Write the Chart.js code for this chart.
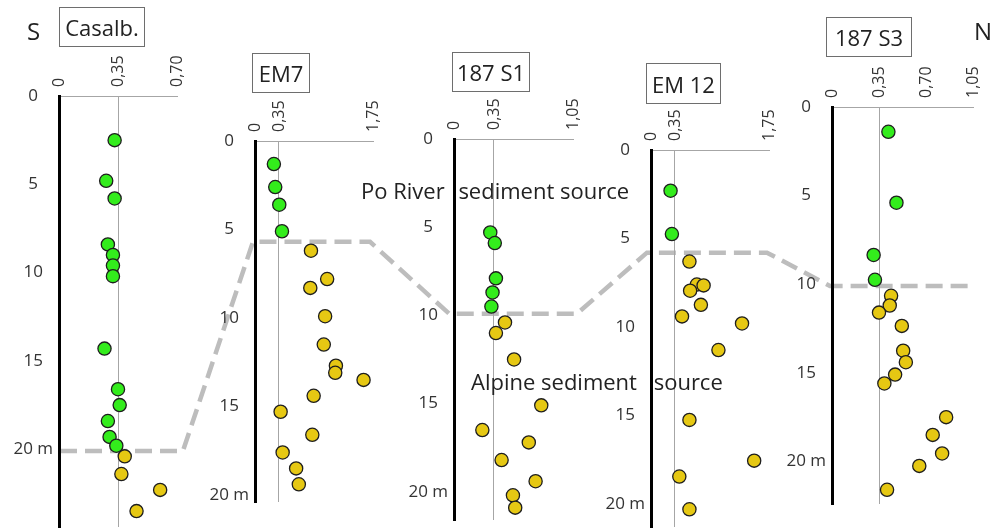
<!DOCTYPE html>
<html>
<head>
<meta charset="utf-8">
<script src="https://cdn.jsdelivr.net/npm/chart.js@4/dist/chart.umd.min.js"></script>
<style>
html,body{margin:0;padding:0;background:#fff;overflow:hidden}
#wrap{position:relative;width:995px;height:529px;font-family:'Open Sans',sans-serif;color:#222}
#wrap canvas{position:absolute;left:0;top:0}
.box{position:absolute;border:1.5px solid #6e6e6e;box-sizing:border-box;display:flex;align-items:center;justify-content:center;font-size:22px;line-height:1;z-index:3;color:#222;background:transparent}
.lbl{position:absolute;font-size:22px;line-height:1;white-space:nowrap;z-index:3;color:#222}
.big{position:absolute;font-size:24px;line-height:1;z-index:3;color:#222}
</style>
</head>
<body>
<div id="wrap">
  <canvas id="ov" width="995" height="529" style="z-index:1"></canvas>
  <canvas id="p0" width="995" height="529" style="z-index:2"></canvas>
  <canvas id="p1" width="995" height="529" style="z-index:2"></canvas>
  <canvas id="p2" width="995" height="529" style="z-index:2"></canvas>
  <canvas id="p3" width="995" height="529" style="z-index:2"></canvas>
  <canvas id="p4" width="995" height="529" style="z-index:2"></canvas>

  <div class="big" style="left:27px;top:19px">S</div>
  <div class="big" style="left:974px;top:19px">N</div>
  <div class="box" id="t0" style="left:59px;top:7px;width:86px;height:40px"></div>
  <div class="box" id="t1" style="left:252px;top:53px;width:58px;height:40px"></div>
  <div class="box" id="t2" style="left:452px;top:52px;width:78px;height:40px"></div>
  <div class="box" id="t3" style="left:646px;top:63px;width:75px;height:41px"></div>
  <div class="box" id="t4" style="left:826px;top:17px;width:86px;height:40px"></div>

  <div class="lbl" style="left:361px;top:179px">Po River <span style="margin-left:8px">sediment source</span></div>
  <div class="lbl" style="left:471px;top:370px">Alpine sediment <span style="margin-left:11px">source</span></div>
</div>

<script>
// ---------------- data ----------------
const panelNames = ['Casalb.', 'EM7', '187 S1', 'EM 12', '187 S3'];
const xMax = [0.70, 1.75, 1.05, 1.75, 1.05];
const xTickValues = [[0, 0.35, 0.70], [0, 0.35, 1.75], [0, 0.35, 1.05], [0, 0.35, 1.75], [0, 0.35, 0.70, 1.05]];
const xTickLabels = [['0', '0,35', '0,70'], ['0', '0,35', '1,75'], ['0', '0,35', '1,05'], ['0', '0,35', '1,75'], ['0', '0,35', '0,70', '1,05']];
const depthMax = [24.4, 20.4, 21.6, 21.3, 22.4];
const depthTicks = [0, 5, 10, 15, 20];
const depthTickLabels = ['0', '5', '10', '15', '20 m'];
// boundary between Po River (above) and Alpine (below) sediment source, per core
const boundaryDepth = [20.1, 5.7, 9.9, 5.8, 10.1];
const boundaryStartX = [0.006, -0.03, -0.044, -0.06, -0.015];
const boundaryEndX = [0.735, 1.706, 1.086, 1.72, 1.028];

// Casalb.
const casalbPoX = [0.33, 0.28, 0.33, 0.29, 0.32, 0.32, 0.32, 0.27, 0.35, 0.36, 0.29, 0.30, 0.34];
const casalbPoDepth = [2.5, 4.8, 5.8, 8.4, 9.0, 9.6, 10.2, 14.3, 16.6, 17.5, 18.4, 19.3, 19.8];
const casalbAlpX = [0.39, 0.37, 0.60, 0.46];
const casalbAlpDepth = [20.4, 21.4, 22.3, 23.5];
// EM7
const em7PoX = [0.28, 0.30, 0.36, 0.40];
const em7PoDepth = [1.3, 2.6, 3.6, 5.1];
const em7AlpX = [0.83, 1.07, 0.82, 1.04, 1.02, 1.20, 1.19, 1.61, 0.87, 0.38, 0.85, 0.41, 0.61, 0.65];
const em7AlpDepth = [6.2, 7.8, 8.3, 9.9, 11.5, 12.7, 13.1, 13.5, 14.4, 15.3, 16.6, 17.6, 18.5, 19.4];
// 187 S1
const s1PoX = [0.32, 0.36, 0.37, 0.34, 0.33];
const s1PoDepth = [5.3, 5.9, 7.9, 8.7, 9.5];
const s1AlpX = [0.45, 0.37, 0.53, 0.77, 0.25, 0.66, 0.42, 0.72, 0.52, 0.54];
const s1AlpDepth = [10.4, 11.0, 12.5, 15.1, 16.5, 17.2, 18.2, 19.4, 20.2, 20.9];
// EM 12
const em12PoX = [0.29, 0.31];
const em12PoDepth = [2.3, 4.75];
const em12AlpX = [0.57, 0.68, 0.78, 0.58, 0.74, 0.46, 1.35, 1.00, 0.57, 1.53, 0.42, 0.57];
const em12AlpDepth = [6.3, 7.6, 7.65, 7.95, 8.75, 9.4, 9.8, 11.3, 15.25, 17.55, 18.45, 20.3];
// 187 S3
const s3PoX = [0.42, 0.48, 0.31, 0.32];
const s3PoDepth = [1.4, 5.4, 8.35, 9.75];
const s3AlpX = [0.44, 0.43, 0.35, 0.52, 0.53, 0.55, 0.47, 0.39, 0.85, 0.75, 0.82, 0.65, 0.41];
const s3AlpDepth = [10.65, 11.2, 11.6, 12.35, 13.75, 14.4, 15.1, 15.6, 17.5, 18.5, 19.55, 20.25, 21.6];

const poSeries = [[casalbPoX, casalbPoDepth], [em7PoX, em7PoDepth], [s1PoX, s1PoDepth], [em12PoX, em12PoDepth], [s3PoX, s3PoDepth]];
const alpSeries = [[casalbAlpX, casalbAlpDepth], [em7AlpX, em7AlpDepth], [s1AlpX, s1AlpDepth], [em12AlpX, em12AlpDepth], [s3AlpX, s3AlpDepth]];

// ---------------- layout (pixels of each panel's plot frame) ----------------
const W = 995, H = 529;
const frames = [
  {left: 59, top: 96, right: 177, bottom: 527},
  {left: 255, top: 141, right: 373, bottom: 502},
  {left: 454, top: 139, right: 573, bottom: 520},
  {left: 651, top: 150, right: 769, bottom: 527},
  {left: 832, top: 107, right: 973, bottom: 504}
];
const Y_W = 50, X_H = 50;
const GREEN = '#33ec1c', YELLOW = '#e6c813', EDGE = '#1e1e1e';
const FONT = "'Open Sans', sans-serif";
Chart.defaults.font.family = FONT;

panelNames.forEach((n, i) => { document.getElementById('t' + i).textContent = n; });

function pts(pair) { return pair[0].map((x, k) => ({x: x, y: pair[1][k]})); }
function zeroPad(s) { s.paddingLeft = 0; s.paddingRight = 0; s.paddingTop = 0; s.paddingBottom = 0; }

const charts = frames.map((f, i) => new Chart(document.getElementById('p' + i), {
  type: 'scatter',
  data: {
    datasets: [
      {data: pts(alpSeries[i]), order: 0, backgroundColor: YELLOW, borderColor: EDGE, pointRadius: 6.6, pointBorderWidth: 1.3, clip: false},
      {data: pts(poSeries[i]), order: 1, backgroundColor: GREEN, borderColor: EDGE, pointRadius: 6.6, pointBorderWidth: 1.3, clip: false}
    ]
  },
  options: {
    responsive: false,
    animation: false,
    events: [],
    layout: {autoPadding: false, padding: {left: f.left - Y_W, top: f.top - X_H, right: W - f.right, bottom: H - f.bottom}},
    plugins: {legend: {display: false}, tooltip: {enabled: false}, title: {display: false}},
    scales: {
      x: {
        type: 'linear', position: 'top', min: 0, max: xMax[i],
        afterBuildTicks: s => { s.ticks = xTickValues[i].map(v => ({value: v})); },
        afterFit: s => { s.height = X_H; zeroPad(s); },
        ticks: {autoSkip: false, minRotation: 90, maxRotation: 90, padding: 9, labelOffset: 20, color: '#333', font: {size: 16},
          callback: (v, idx) => xTickLabels[i][idx]},
        grid: {drawTicks: false, lineWidth: 1, color: c => c.index === 1 ? '#a6a6a6' : 'rgba(0,0,0,0)'},
        border: {display: true, color: '#a6a6a6', width: 1}
      },
      y: {
        type: 'linear', position: 'left', reverse: true, min: 0, max: depthMax[i],
        afterBuildTicks: s => { s.ticks = depthTicks.map(v => ({value: v})); },
        afterFit: s => { s.width = Y_W; zeroPad(s); },
        ticks: {crossAlign: 'center', padding: 6, color: '#333', font: {size: 17},
          callback: (v, idx) => depthTickLabels[idx]},
        grid: {display: false, drawTicks: false},
        border: {display: true, color: '#000', width: 3}
      }
    }
  }
}));

// boundary (dashed) line, positioned through each panel's own scales
const boundaryPts = [];
charts.forEach((ch, i) => {
  const y = ch.scales.y.getPixelForValue(boundaryDepth[i]);
  boundaryPts.push({x: ch.scales.x.getPixelForValue(boundaryStartX[i]), y: y});
  boundaryPts.push({x: ch.scales.x.getPixelForValue(boundaryEndX[i]), y: y});
});

new Chart(document.getElementById('ov'), {
  type: 'scatter',
  data: {datasets: [{data: boundaryPts, showLine: true, pointRadius: 0, borderColor: '#bdbdbd', borderWidth: 4.5,
    borderDash: [17, 8], borderCapStyle: 'butt', borderJoinStyle: 'miter', tension: 0, clip: false}]},
  options: {
    responsive: false, animation: false, events: [],
    layout: {autoPadding: false, padding: 0},
    plugins: {legend: {display: false}, tooltip: {enabled: false}},
    scales: {
      x: {type: 'linear', display: false, min: 0, max: W},
      y: {type: 'linear', display: false, min: 0, max: H, reverse: true}
    }
  }
});
</script>
</body>
</html>
